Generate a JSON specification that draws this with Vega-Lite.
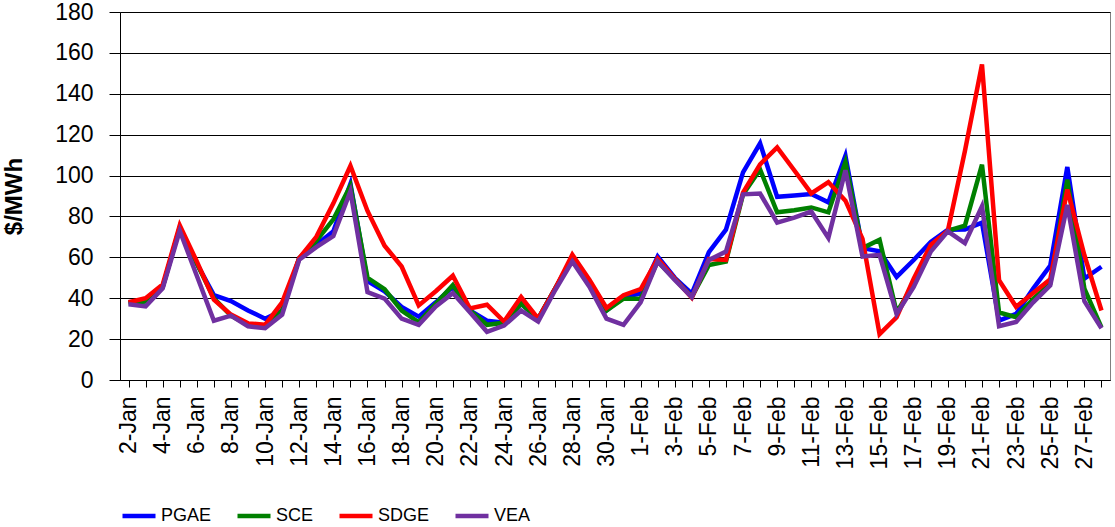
{
  "$schema": "https://vega.github.io/schema/vega-lite/v6.json",
  "width": 1115,
  "height": 527,
  "autosize": {"type": "fit", "contains": "padding"},
  "padding": {"left": 2, "top": 1, "right": 2, "bottom": 2},
  "background": "white",
  "config": {
    "font": "Liberation Sans",
    "view": {"stroke": "#808080"}
  },
  "data": {
    "values": [
      {"day":"2-Jan","utility":"PGAE","price":38},{"day":"2-Jan","utility":"SCE","price":37.5},{"day":"2-Jan","utility":"SDGE","price":38},{"day":"2-Jan","utility":"VEA","price":37},
      {"day":"3-Jan","utility":"PGAE","price":38.5},{"day":"3-Jan","utility":"SCE","price":38.5},{"day":"3-Jan","utility":"SDGE","price":40},{"day":"3-Jan","utility":"VEA","price":36},
      {"day":"4-Jan","utility":"PGAE","price":45.5},{"day":"4-Jan","utility":"SCE","price":45.5},{"day":"4-Jan","utility":"SDGE","price":46.7},{"day":"4-Jan","utility":"VEA","price":44.8},
      {"day":"5-Jan","utility":"PGAE","price":74.5},{"day":"5-Jan","utility":"SCE","price":74.5},{"day":"5-Jan","utility":"SDGE","price":75.6},{"day":"5-Jan","utility":"VEA","price":73},
      {"day":"6-Jan","utility":"PGAE","price":57},{"day":"6-Jan","utility":"SCE","price":57},{"day":"6-Jan","utility":"SDGE","price":58},{"day":"6-Jan","utility":"VEA","price":51},
      {"day":"7-Jan","utility":"PGAE","price":41.5},{"day":"7-Jan","utility":"SCE","price":40},{"day":"7-Jan","utility":"SDGE","price":39.3},{"day":"7-Jan","utility":"VEA","price":29},
      {"day":"8-Jan","utility":"PGAE","price":38.6},{"day":"8-Jan","utility":"SCE","price":31.5},{"day":"8-Jan","utility":"SDGE","price":32},{"day":"8-Jan","utility":"VEA","price":31.5},
      {"day":"9-Jan","utility":"PGAE","price":34},{"day":"9-Jan","utility":"SCE","price":27},{"day":"9-Jan","utility":"SDGE","price":27.7},{"day":"9-Jan","utility":"VEA","price":26.3},
      {"day":"10-Jan","utility":"PGAE","price":30},{"day":"10-Jan","utility":"SCE","price":25.8},{"day":"10-Jan","utility":"SDGE","price":27},{"day":"10-Jan","utility":"VEA","price":25.3},
      {"day":"11-Jan","utility":"PGAE","price":34},{"day":"11-Jan","utility":"SCE","price":34},{"day":"11-Jan","utility":"SDGE","price":38},{"day":"11-Jan","utility":"VEA","price":32},
      {"day":"12-Jan","utility":"PGAE","price":59.6},{"day":"12-Jan","utility":"SCE","price":59.6},{"day":"12-Jan","utility":"SDGE","price":59.6},{"day":"12-Jan","utility":"VEA","price":58.8},
      {"day":"13-Jan","utility":"PGAE","price":66},{"day":"13-Jan","utility":"SCE","price":68},{"day":"13-Jan","utility":"SDGE","price":70},{"day":"13-Jan","utility":"VEA","price":65},
      {"day":"14-Jan","utility":"PGAE","price":72.8},{"day":"14-Jan","utility":"SCE","price":78.6},{"day":"14-Jan","utility":"SDGE","price":86.4},{"day":"14-Jan","utility":"VEA","price":70.4},
      {"day":"15-Jan","utility":"PGAE","price":96},{"day":"15-Jan","utility":"SCE","price":95},{"day":"15-Jan","utility":"SDGE","price":104.7},{"day":"15-Jan","utility":"VEA","price":92.3},
      {"day":"16-Jan","utility":"PGAE","price":48.4},{"day":"16-Jan","utility":"SCE","price":50},{"day":"16-Jan","utility":"SDGE","price":82.7},{"day":"16-Jan","utility":"VEA","price":43},
      {"day":"17-Jan","utility":"PGAE","price":43.4},{"day":"17-Jan","utility":"SCE","price":44.4},{"day":"17-Jan","utility":"SDGE","price":65.7},{"day":"17-Jan","utility":"VEA","price":39.8},
      {"day":"18-Jan","utility":"PGAE","price":35.7},{"day":"18-Jan","utility":"SCE","price":34},{"day":"18-Jan","utility":"SDGE","price":55.5},{"day":"18-Jan","utility":"VEA","price":30},
      {"day":"19-Jan","utility":"PGAE","price":31},{"day":"19-Jan","utility":"SCE","price":28.2},{"day":"19-Jan","utility":"SDGE","price":36.5},{"day":"19-Jan","utility":"VEA","price":27},
      {"day":"20-Jan","utility":"PGAE","price":38},{"day":"20-Jan","utility":"SCE","price":37.3},{"day":"20-Jan","utility":"SDGE","price":43.4},{"day":"20-Jan","utility":"VEA","price":36},
      {"day":"21-Jan","utility":"PGAE","price":45.6},{"day":"21-Jan","utility":"SCE","price":46.4},{"day":"21-Jan","utility":"SDGE","price":51},{"day":"21-Jan","utility":"VEA","price":42.5},
      {"day":"22-Jan","utility":"PGAE","price":34},{"day":"22-Jan","utility":"SCE","price":34},{"day":"22-Jan","utility":"SDGE","price":35},{"day":"22-Jan","utility":"VEA","price":33.2},
      {"day":"23-Jan","utility":"PGAE","price":29},{"day":"23-Jan","utility":"SCE","price":27},{"day":"23-Jan","utility":"SDGE","price":36.8},{"day":"23-Jan","utility":"VEA","price":23.6},
      {"day":"24-Jan","utility":"PGAE","price":28},{"day":"24-Jan","utility":"SCE","price":28},{"day":"24-Jan","utility":"SDGE","price":28.6},{"day":"24-Jan","utility":"VEA","price":26.6},
      {"day":"25-Jan","utility":"PGAE","price":37.3},{"day":"25-Jan","utility":"SCE","price":37.3},{"day":"25-Jan","utility":"SDGE","price":40.6},{"day":"25-Jan","utility":"VEA","price":34},
      {"day":"26-Jan","utility":"PGAE","price":30},{"day":"26-Jan","utility":"SCE","price":30},{"day":"26-Jan","utility":"SDGE","price":30},{"day":"26-Jan","utility":"VEA","price":28.6},
      {"day":"27-Jan","utility":"PGAE","price":44.8},{"day":"27-Jan","utility":"SCE","price":44.8},{"day":"27-Jan","utility":"SDGE","price":44.8},{"day":"27-Jan","utility":"VEA","price":44},
      {"day":"28-Jan","utility":"PGAE","price":59.6},{"day":"28-Jan","utility":"SCE","price":59.6},{"day":"28-Jan","utility":"SDGE","price":61.3},{"day":"28-Jan","utility":"VEA","price":58},
      {"day":"29-Jan","utility":"PGAE","price":47},{"day":"29-Jan","utility":"SCE","price":47},{"day":"29-Jan","utility":"SDGE","price":49},{"day":"29-Jan","utility":"VEA","price":45.6},
      {"day":"30-Jan","utility":"PGAE","price":34},{"day":"30-Jan","utility":"SCE","price":34},{"day":"30-Jan","utility":"SDGE","price":35.2},{"day":"30-Jan","utility":"VEA","price":30},
      {"day":"31-Jan","utility":"PGAE","price":40.6},{"day":"31-Jan","utility":"SCE","price":39.8},{"day":"31-Jan","utility":"SDGE","price":41.5},{"day":"31-Jan","utility":"VEA","price":27},
      {"day":"1-Feb","utility":"PGAE","price":42.3},{"day":"1-Feb","utility":"SCE","price":39.8},{"day":"1-Feb","utility":"SDGE","price":44.4},{"day":"1-Feb","utility":"VEA","price":38},
      {"day":"2-Feb","utility":"PGAE","price":60.4},{"day":"2-Feb","utility":"SCE","price":58},{"day":"2-Feb","utility":"SDGE","price":59.3},{"day":"2-Feb","utility":"VEA","price":58},
      {"day":"3-Feb","utility":"PGAE","price":50},{"day":"3-Feb","utility":"SCE","price":49.5},{"day":"3-Feb","utility":"SDGE","price":49.5},{"day":"3-Feb","utility":"VEA","price":49},
      {"day":"4-Feb","utility":"PGAE","price":42.2},{"day":"4-Feb","utility":"SCE","price":40.6},{"day":"4-Feb","utility":"SDGE","price":40.3},{"day":"4-Feb","utility":"VEA","price":40.6},
      {"day":"5-Feb","utility":"PGAE","price":62.5},{"day":"5-Feb","utility":"SCE","price":56.2},{"day":"5-Feb","utility":"SDGE","price":59.2},{"day":"5-Feb","utility":"VEA","price":58.7},
      {"day":"6-Feb","utility":"PGAE","price":73.5},{"day":"6-Feb","utility":"SCE","price":57.9},{"day":"6-Feb","utility":"SDGE","price":58.7},{"day":"6-Feb","utility":"VEA","price":62.8},
      {"day":"7-Feb","utility":"PGAE","price":101.6},{"day":"7-Feb","utility":"SCE","price":90.8},{"day":"7-Feb","utility":"SDGE","price":91.7},{"day":"7-Feb","utility":"VEA","price":90.8},
      {"day":"8-Feb","utility":"PGAE","price":115.8},{"day":"8-Feb","utility":"SCE","price":103},{"day":"8-Feb","utility":"SDGE","price":105.5},{"day":"8-Feb","utility":"VEA","price":91.2},
      {"day":"9-Feb","utility":"PGAE","price":89.6},{"day":"9-Feb","utility":"SCE","price":82},{"day":"9-Feb","utility":"SDGE","price":113.8},{"day":"9-Feb","utility":"VEA","price":77},
      {"day":"10-Feb","utility":"PGAE","price":90.3},{"day":"10-Feb","utility":"SCE","price":83},{"day":"10-Feb","utility":"SDGE","price":102.6},{"day":"10-Feb","utility":"VEA","price":79.4},
      {"day":"11-Feb","utility":"PGAE","price":91},{"day":"11-Feb","utility":"SCE","price":84.4},{"day":"11-Feb","utility":"SDGE","price":91.3},{"day":"11-Feb","utility":"VEA","price":82.4},
      {"day":"12-Feb","utility":"PGAE","price":86.9},{"day":"12-Feb","utility":"SCE","price":82},{"day":"12-Feb","utility":"SDGE","price":96.8},{"day":"12-Feb","utility":"VEA","price":69.5},
      {"day":"13-Feb","utility":"PGAE","price":109.7},{"day":"13-Feb","utility":"SCE","price":106.7},{"day":"13-Feb","utility":"SDGE","price":87.7},{"day":"13-Feb","utility":"VEA","price":102.6},
      {"day":"14-Feb","utility":"PGAE","price":64.5},{"day":"14-Feb","utility":"SCE","price":64.5},{"day":"14-Feb","utility":"SDGE","price":69},{"day":"14-Feb","utility":"VEA","price":60.4},
      {"day":"15-Feb","utility":"PGAE","price":63},{"day":"15-Feb","utility":"SCE","price":68.6},{"day":"15-Feb","utility":"SDGE","price":22.4},{"day":"15-Feb","utility":"VEA","price":61.2},
      {"day":"16-Feb","utility":"PGAE","price":50.4},{"day":"16-Feb","utility":"SCE","price":33.1},{"day":"16-Feb","utility":"SDGE","price":30.7},{"day":"16-Feb","utility":"VEA","price":32.3},
      {"day":"17-Feb","utility":"PGAE","price":58.7},{"day":"17-Feb","utility":"SCE","price":47},{"day":"17-Feb","utility":"SDGE","price":49.6},{"day":"17-Feb","utility":"VEA","price":45.5},
      {"day":"18-Feb","utility":"PGAE","price":67.5},{"day":"18-Feb","utility":"SCE","price":64.4},{"day":"18-Feb","utility":"SDGE","price":66.1},{"day":"18-Feb","utility":"VEA","price":62.8},
      {"day":"19-Feb","utility":"PGAE","price":73.5},{"day":"19-Feb","utility":"SCE","price":73},{"day":"19-Feb","utility":"SDGE","price":73},{"day":"19-Feb","utility":"VEA","price":72.7},
      {"day":"20-Feb","utility":"PGAE","price":73.6},{"day":"20-Feb","utility":"SCE","price":75.5},{"day":"20-Feb","utility":"SDGE","price":112},{"day":"20-Feb","utility":"VEA","price":67},
      {"day":"21-Feb","utility":"PGAE","price":77},{"day":"21-Feb","utility":"SCE","price":105.3},{"day":"21-Feb","utility":"SDGE","price":154.3},{"day":"21-Feb","utility":"VEA","price":85},
      {"day":"22-Feb","utility":"PGAE","price":29},{"day":"22-Feb","utility":"SCE","price":33},{"day":"22-Feb","utility":"SDGE","price":48.8},{"day":"22-Feb","utility":"VEA","price":26.3},
      {"day":"23-Feb","utility":"PGAE","price":32.3},{"day":"23-Feb","utility":"SCE","price":30.7},{"day":"23-Feb","utility":"SDGE","price":35.8},{"day":"23-Feb","utility":"VEA","price":28.4},
      {"day":"24-Feb","utility":"PGAE","price":44.7},{"day":"24-Feb","utility":"SCE","price":39.7},{"day":"24-Feb","utility":"SDGE","price":42.6},{"day":"24-Feb","utility":"VEA","price":38},
      {"day":"25-Feb","utility":"PGAE","price":56},{"day":"25-Feb","utility":"SCE","price":47.1},{"day":"25-Feb","utility":"SDGE","price":49.3},{"day":"25-Feb","utility":"VEA","price":46.3},
      {"day":"26-Feb","utility":"PGAE","price":104.2},{"day":"26-Feb","utility":"SCE","price":98},{"day":"26-Feb","utility":"SDGE","price":93.2},{"day":"26-Feb","utility":"VEA","price":85.6},
      {"day":"27-Feb","utility":"PGAE","price":49.6},{"day":"27-Feb","utility":"SCE","price":44.7},{"day":"27-Feb","utility":"SDGE","price":61},{"day":"27-Feb","utility":"VEA","price":38.5},
      {"day":"28-Feb","utility":"PGAE","price":55.4},{"day":"28-Feb","utility":"SCE","price":25.7},{"day":"28-Feb","utility":"SDGE","price":34},{"day":"28-Feb","utility":"VEA","price":25.3}
    ]
  },
  "mark": {"type": "line", "strokeWidth": 4.5},
  "encoding": {
    "x": {
      "field": "day",
      "type": "ordinal",
      "sort": null,
      "scale": {"type": "point", "padding": 0.5},
      "axis": {
        "title": null,
        "grid": false,
        "labelExpr": "(indexof(datum.value, 'Jan') > 0 && parseInt(datum.value) % 2 == 0) || (indexof(datum.value, 'Feb') > 0 && parseInt(datum.value) % 2 == 1) ? datum.label : ''",
        "labelAngle": -90,
        "labelFontSize": 23,
        "labelColor": "#000",
        "labelPadding": 9,
        "tickSize": 7,
        "tickColor": "#000",
        "domainColor": "#000"
      }
    },
    "y": {
      "field": "price",
      "type": "quantitative",
      "scale": {"domain": [0, 180], "nice": false},
      "axis": {
        "title": "$/MWh",
        "titleFontSize": 24,
        "titleFontWeight": "bold",
        "titleColor": "#000",
        "titlePadding": 28,
        "values": [0, 20, 40, 60, 80, 100, 120, 140, 160, 180],
        "labelFontSize": 23,
        "labelColor": "#000",
        "labelPadding": 16,
        "tickSize": 11,
        "tickColor": "#000",
        "domainColor": "#000",
        "gridColor": "#000"
      }
    },
    "color": {
      "field": "utility",
      "type": "nominal",
      "scale": {
        "domain": ["PGAE", "SCE", "SDGE", "VEA"],
        "range": ["#0000FF", "#008000", "#FF0000", "#7030A0"]
      },
      "legend": {
        "title": null,
        "orient": "bottom",
        "direction": "horizontal",
        "offset": 28,
        "symbolType": "stroke",
        "symbolSize": 1089,
        "symbolStrokeWidth": 4.5,
        "labelFontSize": 18,
        "labelColor": "#000",
        "labelOffset": 3,
        "columnPadding": 16
      }
    }
  }
}
